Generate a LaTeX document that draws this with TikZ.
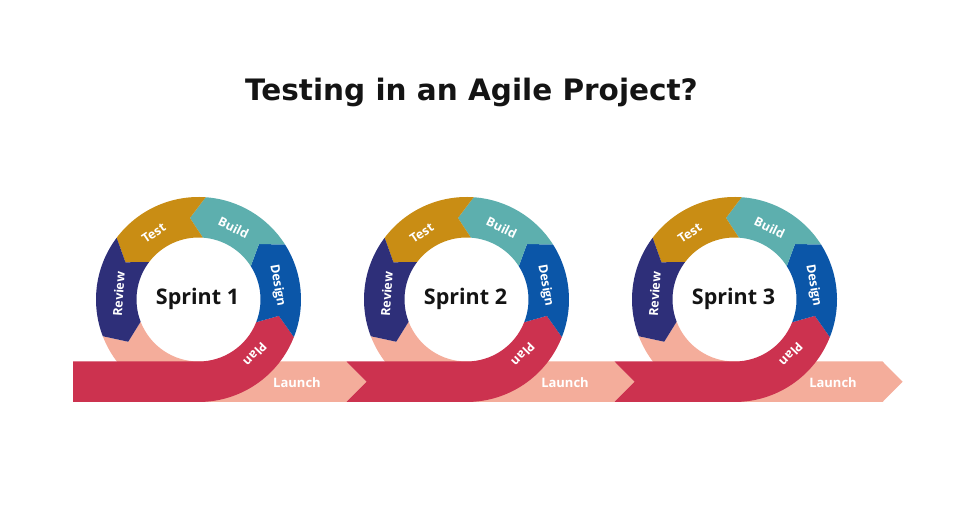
\documentclass[tikz,border=0pt]{standalone}
\usepackage{fontspec}
\setmainfont{Open Sans}
\newfontfamily\titlefont{DejaVu Sans}
\definecolor{crim}{HTML}{CC324F}
\definecolor{salm}{HTML}{F4AD9B}
\definecolor{navy}{HTML}{2E2F79}
\definecolor{gold}{HTML}{C98D14}
\definecolor{teal}{HTML}{5DAFAE}
\definecolor{dblue}{HTML}{0B56A8}
\definecolor{ink}{HTML}{141414}
\newcommand\Ro{102.5pt}
\newcommand\Ri{62pt}
\newcommand\ringseg[3]{%
  \fill[#3] (#1:\Ro) arc[start angle=#1, end angle=#2, radius=\Ro]
    -- ({#2+10}:82pt) -- (#2:\Ri) arc[start angle=#2, end angle=#1, radius=\Ri]
    -- ({#1+10}:82pt) -- cycle;}
\tikzset{
  seglabel/.style={text=white, font=\bfseries\fontsize{12.5}{13}\selectfont, inner sep=0pt},
  sprintlabel/.style={text=ink, font=\bfseries\fontsize{21.5}{24}\selectfont, inner sep=0pt, anchor=base},
  launchlabel/.style={text=white, font=\bfseries\fontsize{13}{14}\selectfont, inner sep=0pt, anchor=base},
}
\begin{document}
\begin{tikzpicture}[x=1pt,y=1pt]
\fill[white] (0,0) rectangle (960,508);
\useasboundingbox (0,0) rectangle (960,508);
\node[text=ink, font=\titlefont\bfseries\fontsize{29.5}{34}\selectfont, inner sep=0pt, anchor=base] (title) at (471.5,407.7) {Testing in an Agile Project?};
\foreach \i/\cx/\xs/\nt in {1/198.5/-125.5/0, 2/466.5/-120/20, 3/734.5/-120/20}{
  \begin{scope}[shift={(\cx,208.5)}]
    % salmon exit ring + launch arrow
    \fill[salm] (201:\Ro) arc[start angle=201, end angle=270, radius=\Ro]
      -- (148pt,-102.5pt) -- (168pt,-82.25pt) -- (148pt,-62pt) -- (0pt,-62pt)
      arc[start angle=270, end angle=201, radius=\Ri] -- (211:82pt) -- cycle;
    % crimson entry band + plan arc
    \fill[crim] (\xs pt,-102.5pt) -- (0pt,-102.5pt)
      arc[start angle=270, end angle=338.5, radius=\Ro] -- (348.5:82pt)
      -- (338.5:\Ri) arc[start angle=338.5, end angle=270, radius=\Ri]
      -- (\xs pt,-62pt) -- ({\xs+\nt},-82.25) -- cycle;
    \ringseg{-21.5}{32.5}{dblue}
    \ringseg{32.5}{86}{teal}
    \ringseg{86}{143}{gold}
    \ringseg{143}{201}{navy}
    \node[seglabel, rotate=-134] (plan\i) at (-44:79pt) {Plan};
    \node[seglabel, rotate=-80] (design\i) at (10:80pt) {Design};
    \node[seglabel, rotate=-26] (build\i) at (64:80pt) {Build};
    \node[seglabel, rotate=34] (test\i) at (124:80pt) {Test};
    \node[seglabel, rotate=86] (review\i) at (176:80pt) {Review};
    \node[sprintlabel] (sprint\i) at (-1pt,-4.8pt) {Sprint \i};
    \node[launchlabel] (launch\i) at (98.5pt,-87.8pt) {Launch};
  \end{scope}
}
\end{tikzpicture}
\end{document}
